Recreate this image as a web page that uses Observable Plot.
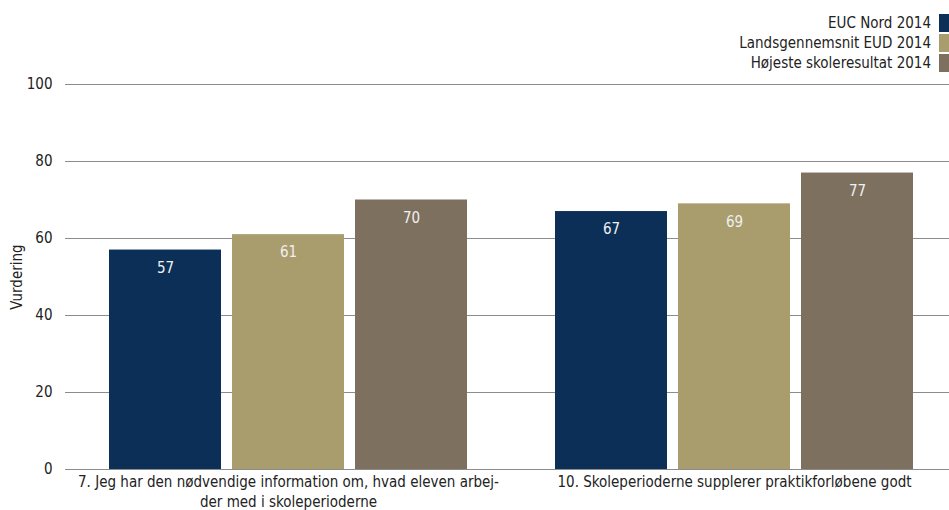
<!DOCTYPE html>
<html>
<head>
<meta charset="utf-8">
<script src="https://cdn.jsdelivr.net/npm/d3@7"></script>
<script src="https://cdn.jsdelivr.net/npm/@observablehq/plot@0.6"></script>
<style>
  body { margin: 0; background: #fff; }
  #wrap { position: relative; width: 949px; height: 510px; overflow: hidden;
          font-family: "DejaVu Sans Condensed", "DejaVu Sans", sans-serif; }
  #legend { position: absolute; right: 0; top: 13px; font-size: 15px; color: #222; }
  .row { display: flex; align-items: center; justify-content: flex-end; height: 20px; }
  .sw { width: 10px; height: 18px; margin-left: 8px; }
</style>
</head>
<body>
<div id="wrap">
  <div id="chart"></div>
  <div id="legend"></div>
</div>
<script>
// Survey questions (tick labels, with a manual line break)
const questions = [
  "7. Jeg har den nødvendige information om, hvad eleven arbej-\nder med i skoleperioderne",
  "10. Skoleperioderne supplerer praktikforløbene godt"
];
const series = ["EUC Nord 2014", "Landsgennemsnit EUD 2014", "Højeste skoleresultat 2014"];
const colors = ["#0c2f57", "#a99d6d", "#7e705f"];

// Scores per question, one array per series
const eucNord = [57, 67];
const landsgennemsnit = [61, 69];
const hoejeste = [70, 77];

const yTicks = [0, 20, 40, 60, 80, 100];
const yTitle = "Vurdering";

const valuesBySeries = [eucNord, landsgennemsnit, hoejeste];
const data = [];
questions.forEach((q, i) => {
  series.forEach((s, j) => data.push({question: q, series: s, value: valuesBySeries[j][i]}));
});

const chart = Plot.plot({
  width: 949,
  height: 510,
  marginLeft: 65,
  marginRight: -8,
  marginTop: 84,
  marginBottom: 41,
  style: {fontFamily: "'DejaVu Sans Condensed', 'DejaVu Sans', sans-serif", fontSize: "15px", color: "#222"},
  fx: {domain: questions, padding: 0, label: null},
  x: {domain: series, paddingInner: 0.09, paddingOuter: 0.358, axis: null},
  y: {domain: [0, 100], label: null},
  color: {domain: series, range: colors},
  marks: [
    Plot.ruleY(yTicks, {stroke: "#8c8c8c", strokeWidth: 1}),
    Plot.barY(data, {fx: "question", x: "series", y: "value", fill: "series"}),
    Plot.text(data, {fx: "question", x: "series", y: "value", text: d => String(d.value),
      fill: "#f0f0f0", dy: 18, fontSize: 15}),
    Plot.axisY(yTicks, {tickSize: 0, tickPadding: 13, fontSize: 15, label: null}),
    // Rotated y-axis title, drawn in the first facet only
    Plot.text([yTitle], {fx: () => questions[0], text: d => d, frameAnchor: "left",
      textAnchor: "middle", rotate: -90, dx: -48, fontSize: 15, fill: "#222"}),
    Plot.axisFx({anchor: "bottom", tickSize: 0, tickPadding: 3, fontSize: 15, lineHeight: 1.33, label: null})
  ]
});
document.getElementById("chart").appendChild(chart);

// Legend: text followed by a colour swatch, right aligned
const legend = document.getElementById("legend");
series.forEach((s, i) => {
  const row = document.createElement("div");
  row.className = "row";
  const t = document.createElement("span");
  t.textContent = s;
  const sw = document.createElement("span");
  sw.className = "sw";
  sw.style.background = colors[i];
  row.append(t, sw);
  legend.appendChild(row);
});
</script>
</body>
</html>
